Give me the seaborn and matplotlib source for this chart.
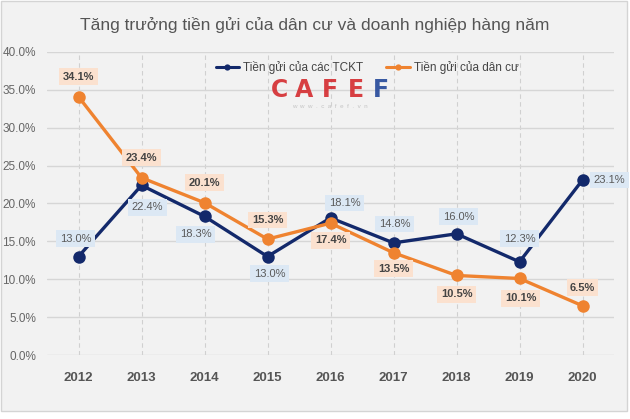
"""
Tăng trưởng tiền gửi của dân cư và doanh nghiệp hàng năm
Nachbau des Liniendiagramms (Quelle: CafeF) mit seaborn.
"""

import matplotlib

matplotlib.use("Agg")

import matplotlib.pyplot as plt
import pandas as pd
import seaborn as sns
from matplotlib.patches import Rectangle
from matplotlib.ticker import FuncFormatter, MultipleLocator


YEARS = ["2012", "2013", "2014", "2015", "2016", "2017", "2018", "2019", "2020"]
TCKT = [13.0, 22.4, 18.3, 13.0, 18.1, 14.8, 16.0, 12.3, 23.1]
DAN_CU = [34.1, 23.4, 20.1, 15.3, 17.4, 13.5, 10.5, 10.1, 6.5]

SERIES_TCKT = "Tiền gửi của các TCKT"
SERIES_DAN_CU = "Tiền gửi của dân cư"

TITLE = "Tăng trưởng tiền gửi của dân cư và doanh nghiệp hàng năm"

NAVY = "#13296b"
ORANGE = "#ef8330"
BG = "#f2f2f2"

# Label-Versatz in Pixeln (dx, dy) pro Punkt
OFFSETS_TCKT = [(-3, 18), (6, -22), (-9, -18), (2, -17), (14, 15), (1, 19), (2, 17), (0, 23), (27, 0)]
OFFSETS_DAN_CU = [(0, 20), (0, 20), (0, 20), (0, 19), (0, -17), (0, -16), (0, -19), (1, -20), (0, 18)]


def main() -> None:
    sns.set_style("white")
    plt.rcParams["font.family"] = ["Liberation Sans", "DejaVu Sans"]

    df = pd.DataFrame(
        {
            "Jahr": YEARS * 2,
            "x": list(range(len(YEARS))) * 2,
            "Wert": TCKT + DAN_CU,
            "Serie": [SERIES_TCKT] * len(YEARS) + [SERIES_DAN_CU] * len(YEARS),
        }
    )

    fig = plt.figure(figsize=(6.3, 4.19), dpi=100)
    fig.patch.set_facecolor("white")
    fig.patches.append(
        Rectangle(
            (0.002, 1 - 411 / 419), 0.994, 411 / 419 - 0.003,
            transform=fig.transFigure, facecolor=BG, edgecolor="#d4d4d4",
            linewidth=1, zorder=-10,
        )
    )

    ax = fig.add_axes([47 / 630, 1 - 355 / 419, 567 / 630, 303 / 419])
    ax.set_facecolor(BG)

    sns.lineplot(
        data=df,
        x="x",
        y="Wert",
        hue="Serie",
        palette={SERIES_TCKT: NAVY, SERIES_DAN_CU: ORANGE},
        marker="o",
        markersize=9,
        markeredgewidth=0,
        linewidth=2.4,
        ax=ax,
        zorder=3,
    )

    ax.set_xlim(-0.5, len(YEARS) - 0.5)
    ax.set_ylim(0, 40)
    ax.yaxis.set_major_locator(MultipleLocator(5))
    ax.yaxis.set_major_formatter(FuncFormatter(lambda v, _: f"{v:.1f}%"))
    ax.set_xticks(range(len(YEARS)))
    ax.set_xticklabels(YEARS, fontweight="bold", fontsize=9.5, color="#555555")
    ax.tick_params(axis="y", labelsize=8.5, labelcolor="#666666", length=0, pad=8)
    ax.tick_params(axis="x", length=0, pad=12)
    ax.set_xlabel("")
    ax.set_ylabel("")

    ax.grid(axis="y", color="#d6d6d6", linewidth=1)
    ax.grid(axis="x", color="#d0d0d0", linewidth=0.8, linestyle=(0, (4, 3)))
    ax.set_axisbelow(True)
    for spine in ax.spines.values():
        spine.set_visible(False)

    for i, (v, off) in enumerate(zip(TCKT, OFFSETS_TCKT)):
        ax.annotate(
            f"{v:.1f}%", (i, v), xytext=off, textcoords="offset pixels",
            ha="center", va="center", fontsize=8, color="#5a5a5a",
            bbox=dict(boxstyle="square,pad=0.3", facecolor="#dce8f4", edgecolor="none"),
            zorder=5,
        )
    for i, (v, off) in enumerate(zip(DAN_CU, OFFSETS_DAN_CU)):
        ax.annotate(
            f"{v:.1f}%", (i, v), xytext=off, textcoords="offset pixels",
            ha="center", va="center", fontsize=8, color="#444444", fontweight="bold",
            bbox=dict(boxstyle="square,pad=0.3", facecolor="#fbe1cf", edgecolor="none"),
            zorder=5,
        )

    leg = ax.legend(
        loc="center",
        bbox_to_anchor=(320 / 567, (355 - 68) / 303),
        ncol=2,
        frameon=False,
        fontsize=8.5,
        handlelength=2.0,
        handletextpad=0.3,
        columnspacing=2.0,
        labelcolor="#444444",
    )
    for line in leg.get_lines():
        line.set_markersize(4.5)
        line.set_linewidth(2.2)

    # Wasserzeichen
    logo_colors = ["#d42b2f", "#d42b2f", "#d42b2f", "#d42b2f", "#24489a"]
    for k, (letter, col) in enumerate(zip("CAFEF", logo_colors)):
        fig.text((279 + 25.5 * k) / 630, 1 - 90 / 419, letter, ha="center", va="center",
                 fontsize=17, fontweight="heavy", color=col, alpha=0.9,
                 family=["DejaVu Sans"])
    fig.text(330 / 630, 1 - 106 / 419, "w  w  w  .  c  a  f  e  f  .  v  n", ha="center",
             va="center", fontsize=4.5, color="#c4c4c4")

    fig.text(0.5, 1 - 25 / 419, TITLE, ha="center", va="center",
             fontsize=12.5, color="#555555")

    fig.savefig("out.png", dpi=100, facecolor=fig.get_facecolor())
    plt.close(fig)


if __name__ == "__main__":
    main()
